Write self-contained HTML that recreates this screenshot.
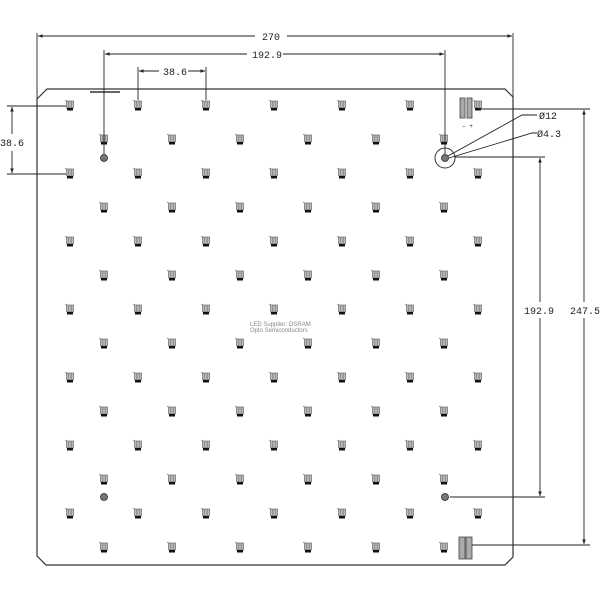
<!DOCTYPE html>
<html><head><meta charset="utf-8"><style>
html,body{margin:0;padding:0;background:#fff;}
svg{display:block;}
text{font-family:"Liberation Mono",monospace;font-size:10px;fill:#222;}
</style></head><body>
<svg width="600" height="600" viewBox="0 0 600 600" xmlns="http://www.w3.org/2000/svg">
<defs>
<g id="led">
  <rect x="-3.5" y="-5" width="7" height="7" fill="#bbb" stroke="#555" stroke-width="0.6"/>
  <line x1="-1.2" y1="-4.5" x2="-1.2" y2="1.5" stroke="#666" stroke-width="0.6"/>
  <line x1="1.2" y1="-4.5" x2="1.2" y2="1.5" stroke="#666" stroke-width="0.6"/>
  <rect x="-3" y="2" width="6" height="2.5" fill="#111"/>
  <line x1="-5" y1="-6" x2="-3.5" y2="-5" stroke="#555" stroke-width="0.6"/>
</g>
<pattern id="grid" patternUnits="userSpaceOnUse" x="53" y="89" width="68" height="68">
  <use href="#led" x="17" y="17"/>
  <use href="#led" x="51" y="51"/>
</pattern>
<marker id="ar" viewBox="0 0 10 10" refX="10" refY="5" markerWidth="7" markerHeight="5" orient="auto-start-reverse"><path d="M0,1 L10,5 L0,9 z" fill="#222"/></marker>
</defs>

<!-- board -->
<path d="M47,89 L505,89 L513,97 L513,557 L505,565 L46,565 L37,556 L37,99 Z" fill="none" stroke="#333" stroke-width="1.2"/>
<rect x="53" y="89" width="434" height="464" fill="url(#grid)"/>

<!-- fiducials -->
<g fill="#777" stroke="#222" stroke-width="0.8">
<circle cx="104" cy="158" r="3.5"/><circle cx="445" cy="158" r="3.5"/>
<circle cx="104" cy="497" r="3.5"/><circle cx="445" cy="497" r="3.5"/>
</g>
<circle cx="445" cy="158" r="10" fill="none" stroke="#333" stroke-width="1"/>

<!-- connectors -->
<g fill="#aaa" stroke="#444" stroke-width="0.8">
<rect x="460" y="98" width="5" height="20"/><rect x="467" y="98" width="5" height="20"/>
<rect x="459" y="537" width="6" height="22"/><rect x="466" y="537" width="6" height="22"/>
</g>
<text x="462" y="128" style="font-size:6px">– +</text>
<line x1="90" y1="92" x2="120" y2="92" stroke="#333" stroke-width="1.5"/>

<!-- center text -->
<text x="250" y="326" style="font-family:'Liberation Sans',sans-serif;font-size:6px;fill:#888">LED Supplier: OSRAM</text>
<text x="250" y="332" style="font-family:'Liberation Sans',sans-serif;font-size:6px;fill:#888">Opto Semiconductors</text>

<!-- dimensions -->
<g stroke="#222" stroke-width="0.9" fill="none">
<line x1="37" y1="33" x2="37" y2="99"/>
<line x1="513" y1="33" x2="513" y2="97"/>
<line x1="104" y1="50" x2="104" y2="154"/>
<line x1="445" y1="50" x2="445" y2="154"/>
<line x1="138" y1="67" x2="138" y2="100"/>
<line x1="206" y1="67" x2="206" y2="100"/>
<line x1="38" y1="36" x2="255" y2="36" marker-start="url(#ar)"/>
<line x1="287" y1="36" x2="512" y2="36" marker-end="url(#ar)"/>
<line x1="105" y1="54" x2="247" y2="54" marker-start="url(#ar)"/>
<line x1="283" y1="54" x2="444" y2="54" marker-end="url(#ar)"/>
<line x1="139" y1="71" x2="159" y2="71" marker-start="url(#ar)"/>
<line x1="188" y1="71" x2="205" y2="71" marker-end="url(#ar)"/>
<line x1="7" y1="106" x2="66" y2="106"/>
<line x1="7" y1="174" x2="66" y2="174"/>
<line x1="12" y1="107" x2="12" y2="134" marker-start="url(#ar)"/>
<line x1="12" y1="151" x2="12" y2="173" marker-end="url(#ar)"/>
<line x1="478" y1="109" x2="590" y2="109"/>
<line x1="455" y1="157" x2="545" y2="157"/>
<line x1="450" y1="497" x2="545" y2="497"/>
<line x1="472" y1="545" x2="590" y2="545"/>
<line x1="540" y1="158" x2="540" y2="302" marker-start="url(#ar)"/>
<line x1="540" y1="318" x2="540" y2="496" marker-end="url(#ar)"/>
<line x1="584" y1="110" x2="584" y2="302" marker-start="url(#ar)"/>
<line x1="584" y1="318" x2="584" y2="544" marker-end="url(#ar)"/>
<polyline points="448,156 522,115 537,115"/>
<polyline points="449,158 532,133 537,133"/>
</g>
<text x="262" y="40">270</text>
<text x="252" y="58">192.9</text>
<text x="163" y="75">38.6</text>
<text x="0" y="146">38.6</text>
<text x="524" y="314">192.9</text>
<text x="570" y="314">247.5</text>
<text x="539" y="119">Ø12</text>
<text x="537" y="137">Ø4.3</text>
</svg>
</body></html>
